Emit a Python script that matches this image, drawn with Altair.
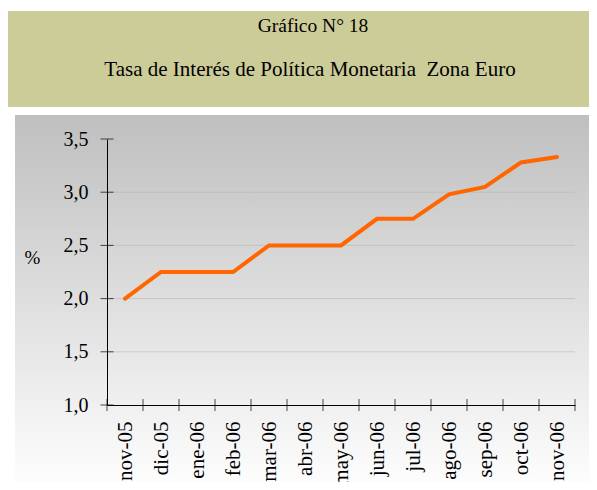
import altair as alt
import pandas as pd

# ---- data ----
months = ['nov-05', 'dic-05', 'ene-06', 'feb-06', 'mar-06', 'abr-06', 'may-06',
          'jun-06', 'jul-06', 'ago-06', 'sep-06', 'oct-06', 'nov-06']
rates = [2.0, 2.25, 2.25, 2.25, 2.5, 2.5, 2.5, 2.75, 2.75, 2.98, 3.05, 3.28, 3.33]
y_ticks = [1.0, 1.5, 2.0, 2.5, 3.0, 3.5]
grid_values = [1.5, 2.0, 2.5, 3.0]
title_lines = ['Gráfico N° 18', 'Tasa de Interés de Política Monetaria\u00a0 Zona Euro']

FONT = 'Liberation Serif'
W, H = 468, 266
n = len(months)

df = pd.DataFrame({'pos': [i + 0.5 for i in range(n)], 'mes': months, 'tasa': rates})
bounds = pd.DataFrame({'pos': list(range(n + 1)), 'tasa': [y_ticks[0]] * (n + 1)})
yt = pd.DataFrame({'tasa': y_ticks, 'pos': [0] * len(y_ticks)})
gr = pd.DataFrame({'tasa': grid_values})
one = pd.DataFrame({'k': [0]})

xscale = alt.Scale(domain=[0, n], nice=False, zero=False)
yscale = alt.Scale(domain=[1.0, 3.5], nice=False, zero=False)

label_expr = "[" + ",".join("'%s'" % m for m in months) + "][floor(datum.value)]"

xaxis = alt.Axis(values=[i + 0.5 for i in range(n)], labelExpr=label_expr,
                 labelAngle=270, labelAlign='right', labelBaseline='middle',
                 labelFont=FONT, labelFontSize=21, labelColor='black',
                 labelPadding=16, ticks=False, grid=False, domain=True,
                 domainColor='black', domainWidth=1, title=None, zindex=1,
                 labelOverlap=False, labelBound=False, labelFlush=False)
yaxis = alt.Axis(values=y_ticks, format='.1f', labelExpr="replace(datum.label, '.', ',')",
                 labelFont=FONT, labelFontSize=20, labelColor='black',
                 labelPadding=19, ticks=False, grid=False, domain=True,
                 domainColor='black', domainWidth=1, zindex=1,
                 labelOverlap=False, labelBound=False, labelFlush=False,
                 title='%', titleAngle=0, titleX=-75, titleY=118,
                 titleAlign='center', titleBaseline='middle', titleFont=FONT,
                 titleFontSize=19, titleFontWeight='normal', titleColor='black')

X = alt.X('pos:Q', scale=xscale, axis=xaxis)
Y = alt.Y('tasa:Q', scale=yscale, axis=yaxis)

bg = alt.Chart(one).mark_rect(
    fill={'gradient': 'linear',
          'stops': [{'offset': 0, 'color': '#BFBFBF'}, {'offset': 1, 'color': '#FDFDFD'}],
          'x1': 0, 'x2': 0, 'y1': 0, 'y2': 1}
).encode(x=alt.value(-92), x2=alt.value(485), y=alt.value(-24), y2=alt.value(343))

title_box = alt.Chart(one).mark_rect(fill='#CCCC99').encode(
    x=alt.value(-99), x2=alt.value(482), y=alt.value(-128), y2=alt.value(-32))

t1 = alt.Chart(one).mark_text(text=title_lines[0], font=FONT, fontSize=19.5, color='black',
                              align='center', baseline='middle').encode(
    x=alt.value(206), y=alt.value(-113))
t2 = alt.Chart(one).mark_text(text=title_lines[1], font=FONT, fontSize=21, color='black',
                              align='center', baseline='middle').encode(
    x=alt.value(203), y=alt.value(-69))

grid = alt.Chart(gr).mark_rule(color='#aaaaaa', opacity=0.45, strokeWidth=1).encode(y=Y)

xt = alt.Chart(bounds).mark_tick(orient='vertical', size=12, thickness=1, color='black').encode(
    x=X, y=Y)

ytk = alt.Chart(yt).mark_tick(orient='horizontal', size=13, thickness=1, color='black').encode(
    x=X, y=Y)

line = alt.Chart(df).mark_line(color='#FF6600', strokeWidth=4, strokeCap='round').encode(
    x=X, y=Y)

chart = alt.layer(bg, title_box, t1, t2, grid, xt, ytk, line).properties(
    width=W, height=H,
    padding={'left': 99, 'top': 131, 'right': 14, 'bottom': 77},
    autosize=alt.AutoSizeParams(type='none'),
    background='white'
).configure_view(strokeWidth=0)

chart.save('out.html', embed_options={'renderer': 'svg', 'actions': False})
